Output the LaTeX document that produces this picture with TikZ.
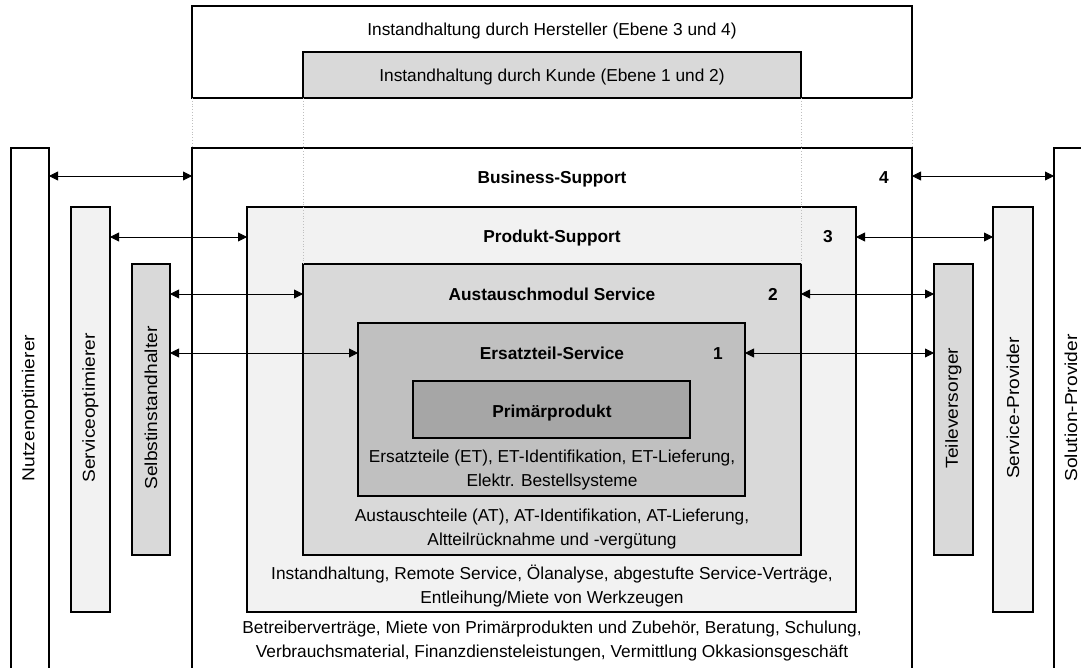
\documentclass[tikz,border=0pt]{standalone}
\usepackage{fontspec}
\usepackage{graphicx}
\setmainfont{Liberation Sans}
\usetikzlibrary{arrows.meta,fit}
\definecolor{lvlA}{HTML}{F2F2F2}
\definecolor{lvlB}{HTML}{D9D9D9}
\definecolor{lvlC}{HTML}{C0C0C0}
\definecolor{lvlD}{HTML}{A6A6A6}
\newcommand{\wide}[1]{\scalebox{1.11}[1]{#1}}

\begin{document}
\begin{tikzpicture}[x=1pt,y=-1pt,
  box/.style={draw=black, line width=1.8pt, inner sep=0pt, outer sep=0pt},
  txt/.style={font=\fontsize{17.3}{24}\selectfont, inner sep=0pt, anchor=base, align=center},
  ttl/.style={txt, font=\fontsize{17.3}{24}\selectfont\bfseries},
  vtxt/.style={font=\fontsize{17.3}{24}\selectfont, rotate=90, inner sep=0pt},
  arr/.style={{Triangle[length=9pt,width=9pt]}-{Triangle[length=9pt,width=9pt]}, line width=0.9pt},
  guide/.style={draw=gray!50, dotted, line width=0.8pt}]

\useasboundingbox (0,0) rectangle (1081,668);
\clip (0,0) rectangle (1081,668);

% maintenance responsibility boxes on top
\node[box, fill=white, fit={(192,6) (912,98)}] (top) {};
\node[box, fill=lvlB, fit={(303,52) (801,98)}] (kunde) {};
\node[txt] (ttop) at (552,36) {Instandhaltung durch Hersteller (Ebene 3 und 4)};
\node[txt] (tkunde) at (552,82) {Instandhaltung durch Kunde (Ebene 1 und 2)};

% nested service levels
\node[box, fill=white, fit={(192,148) (912,720)}] (bus) {};
\node[box, fill=lvlA, fit={(247,207) (856,612)}] (prod) {};
\node[box, fill=lvlB, fit={(303,264) (801,555)}] (aus) {};
\node[box, fill=lvlC, fit={(358,323) (745,496)}] (ers) {};
\node[box, fill=lvlD, fit={(413,381) (690,438)}] (prim) {};

% left-hand customer types
\node[box, fill=white, fit={(11,148) (49,720)}] (nutz) {};
\node[box, fill=lvlA, fit={(71,207) (110,612)}] (sopt) {};
\node[box, fill=lvlB, fit={(132,264) (170,555)}] (selb) {};
% right-hand provider types
\node[box, fill=lvlB, fit={(934,264) (973,555)}] (teil) {};
\node[box, fill=lvlA, fit={(993,207) (1033,612)}] (sprov) {};
\node[box, fill=white, fit={(1054,148) (1093,720)}] (solp) {};

% guide lines between the two diagram parts
\draw[guide] (top.south west) -- (bus.north west);
\draw[guide] (top.south east) -- (bus.north east);
\draw[guide] (kunde.south west) -- (aus.north west);
\draw[guide] (kunde.south east) -- (aus.north east);

% level titles and numbers
\node[ttl] (tbus) at (552,184) {Business-Support};
\node[ttl] (tprod) at (552,243) {Produkt-Support};
\node[ttl] (taus) at (552,300) {Austauschmodul Service};
\node[ttl] (ters) at (552,359) {Ersatzteil-Service};
\node[ttl] (tprim) at (552,417) {Primärprodukt};
\node[ttl] (n4) at (884,184) {4};
\node[ttl] (n3) at (828,243) {3};
\node[ttl] (n2) at (773,300) {2};
\node[ttl] (n1) at (718,359) {1};

% level contents (base anchor sits on the last line)
\node[txt] (cers) at (552,486) {Ersatzteile (ET), ET-Identifikation, ET-Lieferung,\\Elektr. Bestellsysteme};
\node[txt] (caus) at (552,545) {Austauschteile (AT), AT-Identifikation, AT-Lieferung,\\Altteilrücknahme und -vergütung};
\node[txt] (cprod) at (552,603) {Instandhaltung, Remote Service, Ölanalyse, abgestufte Service-Verträge,\\Entleihung/Miete von Werkzeugen};
\node[txt] (cbus) at (552,657) {Betreiberverträge, Miete von Primärprodukten und Zubehör, Beratung, Schulung,\\Verbrauchsmaterial, Finanzdiensteleistungen, Vermittlung Okkasionsgeschäft};

% vertical labels
\node[vtxt] (lnutz) at (30,408) {\wide{Nutzenoptimierer}};
\node[vtxt] (lsopt) at (90.5,408) {\wide{Serviceoptimierer}};
\node[vtxt] (lselb) at (151,408) {\wide{Selbstinstandhalter}};
\node[vtxt] (lteil) at (953.5,408) {\wide{Teileversorger}};
\node[vtxt] (lsprov) at (1013,408) {\wide{Service-Provider}};
\node[vtxt] (lsolp) at (1071,408) {\wide{Solution-Provider}};

% connector rows
\coordinate (r4) at (0,176);
\coordinate (r3) at (0,237);
\coordinate (r2) at (0,294);
\coordinate (r1) at (0,353);

\draw[arr] (nutz.east |- r4) -- (bus.west |- r4);
\draw[arr] (sopt.east |- r3) -- (prod.west |- r3);
\draw[arr] (selb.east |- r2) -- (aus.west |- r2);
\draw[arr] (selb.east |- r1) -- (ers.west |- r1);

\draw[arr] (bus.east |- r4) -- (solp.west |- r4);
\draw[arr] (prod.east |- r3) -- (sprov.west |- r3);
\draw[arr] (aus.east |- r2) -- (teil.west |- r2);
\draw[arr] (ers.east |- r1) -- (teil.west |- r1);
\end{tikzpicture}
\end{document}
